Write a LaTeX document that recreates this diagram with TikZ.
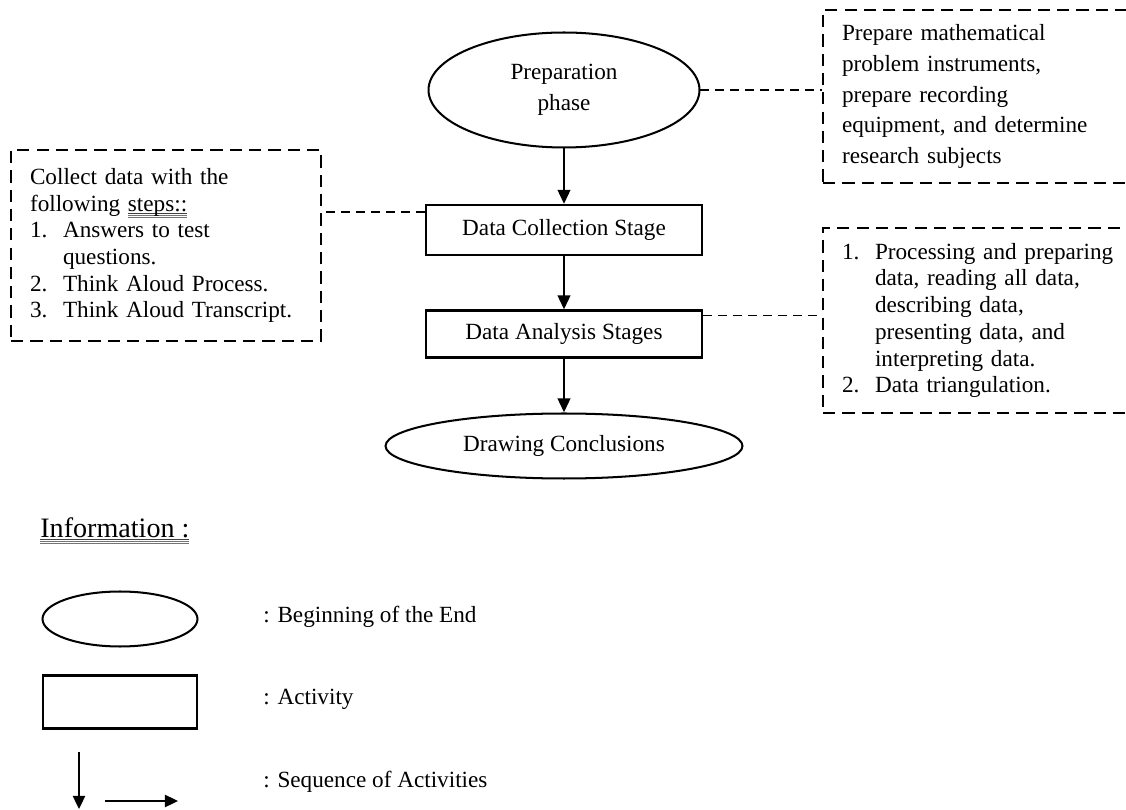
\documentclass[tikz,border=0pt]{standalone}
\usepackage{fontspec}
\setmainfont{Liberation Serif}
\usepackage{tikz}
\usetikzlibrary{arrows.meta, shapes.geometric}
\definecolor{gramblue}{RGB}{70,120,220}
\newsavebox\gramsave
\newcommand{\gramline}[1]{\sbox\gramsave{#1}%
  \rlap{\color{darkgray}\rule[-1.6pt]{\wd\gramsave}{0.45pt}}%
  \rlap{\color{gramblue}\rule[-2.8pt]{\wd\gramsave}{0.6pt}}%
  \rlap{\color{gramblue}\rule[-4.0pt]{\wd\gramsave}{0.6pt}}\usebox\gramsave}
\newcommand{\itemno}[1]{\makebox[0.66cm][l]{#1}}
\newcommand{\itemgap}{\hspace*{0.66cm}}
\tikzset{
    ovalnode/.style={ellipse, draw, line width=1.15pt, inner sep=0pt, align=center},
    actnode/.style={rectangle, draw, line width=1.15pt, inner sep=0pt},
    notenode/.style={rectangle, draw, dash pattern=on 7pt off 4pt, line width=0.8pt, inner xsep=0.38cm, inner ysep=0pt, align=left},
    notelink/.style={draw, dash pattern=on 5pt off 3.5pt, line width=0.8pt},
    flow/.style={draw, line width=1.6pt, -{Triangle[length=8pt,width=7pt]}},
    keyflow/.style={draw, line width=1.1pt, -{Triangle[length=7.5pt,width=7pt]}},
    keytext/.style={anchor=west, inner sep=0pt},
}

\begin{document}
\begin{tikzpicture}[x=0.02cm, y=-0.02cm, font=\fontsize{13.2}{15.2}\selectfont]
    \useasboundingbox (0,0) rectangle (1126,810);
    \node[ovalnode, minimum width=5.42cm, minimum height=2.3cm, font=\fontsize{13.2}{17.6}\selectfont] (prep) at (564,90) {Preparation\\phase};
    \node[actnode, minimum width=5.54cm, minimum height=1cm] (collect) at (564,230) {Data Collection Stage};
    \node[actnode, minimum width=5.54cm, minimum height=0.94cm] (analysis) at (564,334) {Data Analysis Stages};
    \node[ovalnode, minimum width=7.14cm, minimum height=1.3cm] (concl) at (564,446) {Drawing Conclusions};
    \draw[flow] (prep.south) -- (collect.north);
    \draw[flow] (collect.south) -- (analysis.north);
    \draw[flow] (analysis.south) -- (concl.north);

    \node[notenode, text width=5.44cm, minimum height=3.82cm] (collectnote) at (166,245.5) {Collect data with the\\following \gramline{steps::}\\\itemno{1.}Answers to test\\\itemgap questions.\\\itemno{2.}Think Aloud Process.\\\itemno{3.}Think Aloud Transcript.};
    \node[notenode, text width=5.58cm, minimum height=3.46cm, font=\fontsize{13.2}{17.6}\selectfont] (prepnote) at (981.5,96.5) {Prepare mathematical\\problem instruments,\\prepare recording\\equipment, and determine\\research subjects};
    \node[notenode, text width=5.58cm, minimum height=3.7cm] (analysisnote) at (981.5,320.5) {\itemno{1.}Processing and preparing\\\itemgap data, reading all data,\\\itemgap describing data,\\\itemgap presenting data, and\\\itemgap interpreting data.\\\itemno{2.}Data triangulation.};
    \coordinate (collectlink) at ([yshift=-0.16cm]collect.north west);
    \coordinate (analysislink) at ([yshift=-0.12cm]analysis.north east);
    \draw[notelink] (prep.east) -- (prep.east -| prepnote.west);
    \draw[notelink] (collectlink) -- (collectlink -| collectnote.east);
    \draw[notelink] (analysislink) -- (analysislink -| analysisnote.west);

    \node[keytext, font=\fontsize{16}{19}\selectfont] (infotitle) at (40,531) {\gramline{Information :}};
    \node[ovalnode, minimum width=3.1cm, minimum height=1.1cm] (keyoval) at (120,619) {};
    \node[actnode, minimum width=3.1cm, minimum height=1.06cm] (keybox) at (120,702) {};
    \coordinate (downstart) at (79,752);
    \coordinate (downend) at (79,809);
    \coordinate (rightstart) at (105,801);
    \coordinate (rightend) at (178,801);
    \draw[keyflow] (downstart) -- (downend);
    \draw[keyflow] (rightstart) -- (rightend);
    \node[keytext] (ovaltext) at (263,617) {: Beginning of the End};
    \node[keytext] (boxtext) at (263,699) {: Activity};
    \node[keytext] (flowtext) at (263,782) {: Sequence of Activities};
\end{tikzpicture}
\end{document}
